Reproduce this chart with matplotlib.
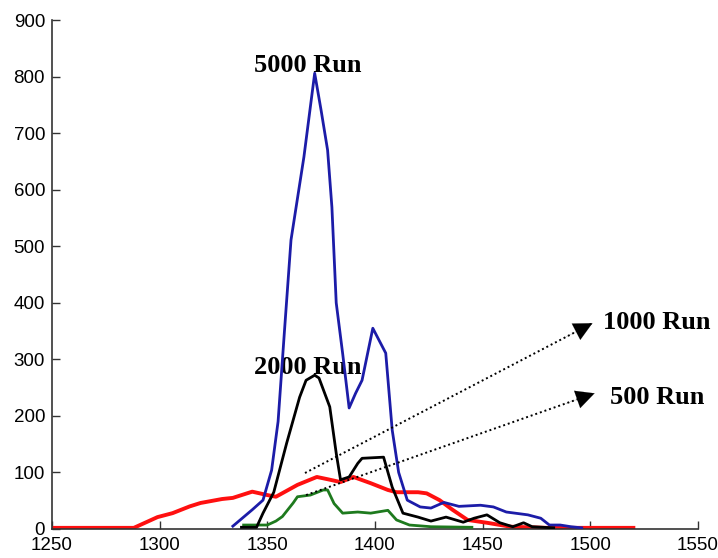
import matplotlib
matplotlib.use("Agg")
import matplotlib.pyplot as plt

# Run histograms (counts vs. value) for four run lengths
x_5000 = [1334, 1343, 1348, 1352, 1355, 1358, 1361, 1367, 1372, 1375, 1378, 1380, 1382,
          1385, 1388, 1391, 1394, 1399, 1405, 1408, 1411, 1415, 1421, 1426, 1432, 1439,
          1449, 1455, 1461, 1471, 1477, 1481, 1486, 1491, 1496]
y_5000 = [5, 34, 51, 104, 190, 352, 511, 658, 806, 740, 670, 569, 400,
          310, 214, 240, 263, 355, 311, 175, 100, 51, 39, 37, 47, 40,
          42, 39, 30, 25, 19, 7, 7, 4, 2]

x_2000 = [1338, 1345, 1348, 1353, 1359, 1365, 1368, 1372, 1374, 1379, 1382, 1384, 1388,
          1392, 1394, 1404, 1408, 1413, 1420, 1426, 1433, 1441, 1446, 1452, 1458, 1464,
          1469, 1473, 1483]
y_2000 = [3, 3, 28, 65, 152, 233, 263, 272, 267, 216, 134, 87, 92,
          116, 125, 127, 74, 28, 21, 14, 21, 12, 19, 25, 11, 4,
          11, 4, 2]

x_1000 = [1250, 1288, 1299, 1306, 1314, 1319, 1329, 1334, 1343, 1350, 1354, 1364, 1373,
          1378, 1384, 1390, 1398, 1406, 1410, 1420, 1424, 1430, 1436, 1443, 1452, 1463,
          1480, 1494, 1520]
y_1000 = [2, 2, 21, 28, 40, 46, 53, 55, 66, 60, 57, 78, 92,
          88, 83, 92, 81, 69, 65, 65, 63, 51, 34, 16, 11, 4,
          2, 2, 2]

x_500 = [1339, 1350, 1354, 1357, 1362, 1364, 1370, 1376, 1378, 1381, 1385, 1392, 1398,
         1406, 1410, 1416, 1426, 1445]
y_500 = [7, 7, 14, 22, 46, 57, 60, 69, 69, 45, 28, 30, 28,
         33, 16, 7, 4, 3]

x_ticks = [1250, 1300, 1350, 1400, 1450, 1500, 1550]
y_ticks = [0, 100, 200, 300, 400, 500, 600, 700, 800, 900]

LABEL_FONT = dict(family="Liberation Serif", weight="bold", fontsize=19)

fig = plt.figure(figsize=(7.18, 5.58), dpi=100)
ax = fig.add_axes([0.0724, 0.052, 0.8997, 0.912])

ax.plot(x_1000, y_1000, color="#ff1010", lw=2.8, zorder=2)
ax.plot(x_500, y_500, color="#1e7a1e", lw=2.0, zorder=3)
ax.plot(x_5000, y_5000, color="#1c1ca8", lw=2.0, zorder=4)
ax.plot(x_2000, y_2000, color="black", lw=2.0, zorder=5)

ax.set_xlim(1250, 1550)
ax.set_ylim(0, 900)
ax.set_xticks(x_ticks)
ax.set_yticks(y_ticks)
ax.tick_params(direction="in", length=6, width=1, colors="#333333",
               labelsize=13.5, labelcolor="black")
for lab in ax.get_xticklabels() + ax.get_yticklabels():
    lab.set_family("Liberation Sans")
ax.tick_params(axis="x", pad=6)
ax.tick_params(axis="y", pad=5)
for side in ("top", "right"):
    ax.spines[side].set_visible(False)
for side in ("left", "bottom"):
    ax.spines[side].set_color("#333333")
    ax.spines[side].set_linewidth(1.2)

# run labels
ax.text(1369, 820, "5000 Run", ha="center", va="center", **LABEL_FONT)
ax.text(1369, 286, "2000 Run", ha="center", va="center", **LABEL_FONT)
ax.text(1506, 366, "1000 Run", ha="left", va="center", clip_on=False, **LABEL_FONT)
ax.text(1509, 233, "500 Run", ha="left", va="center", clip_on=False, **LABEL_FONT)

# dotted pointers with solid heads
for start, tip in [((1367.5, 99), (1501, 364)), ((1368, 60), (1502, 240))]:
    ax.plot([start[0], tip[0]], [start[1], tip[1]], color="black", lw=1.4,
            linestyle=(0, (1, 1.5)), zorder=6, clip_on=False)
    back = (tip[0] - 0.1 * (tip[0] - start[0]), tip[1] - 0.1 * (tip[1] - start[1]))
    ax.annotate("", xy=tip, xytext=back,
                arrowprops=dict(arrowstyle="-|>,head_length=0.6,head_width=0.3",
                                color="black", lw=0.1,
                                mutation_scale=22, shrinkA=0, shrinkB=0),
                annotation_clip=False, zorder=7)

fig.savefig("out.png", dpi=100)
